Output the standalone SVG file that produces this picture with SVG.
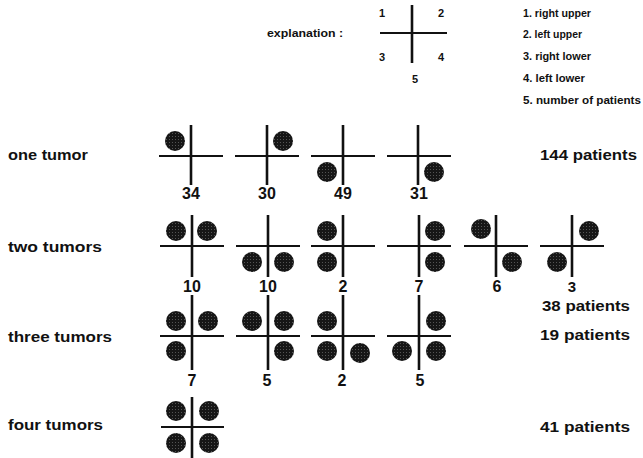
<svg xmlns="http://www.w3.org/2000/svg" width="643" height="458" viewBox="0 0 643 458">
<style>
text{font-family:"Liberation Sans",Arial,sans-serif;font-weight:bold;fill:#111}
.lbl{font-size:15px}
.num{font-size:16px;text-anchor:middle}
.leg{font-size:10.5px}
.exn{font-size:11px;text-anchor:middle}
.v{stroke:#111;stroke-width:2.6}
.h{stroke:#111;stroke-width:2.2}
.t{fill:url(#dots)}
</style>
<defs>
<pattern id="dots" width="3" height="3" patternUnits="userSpaceOnUse">
<rect width="3" height="3" fill="#161616"/>
<circle cx="1.5" cy="1.5" r="0.45" fill="#fff" opacity="0.55"/>
</pattern>
</defs>
<rect width="643" height="458" fill="#fff"/>

<g id="explanation">
<text x="267" y="37" class="leg" textLength="76" lengthAdjust="spacingAndGlyphs">explanation :</text>
<line class="v" x1="412" y1="5" x2="412" y2="63"/>
<line class="h" x1="380" y1="33" x2="447" y2="33"/>
<text x="382" y="17" class="exn">1</text>
<text x="441" y="17" class="exn">2</text>
<text x="382" y="61" class="exn">3</text>
<text x="441" y="61" class="exn">4</text>
<text x="415" y="83" class="exn">5</text>
</g>

<g id="legend">
<text x="523" y="17" class="leg" textLength="68" lengthAdjust="spacingAndGlyphs">1. right upper</text>
<text x="523" y="38" class="leg" textLength="59" lengthAdjust="spacingAndGlyphs">2. left upper</text>
<text x="523" y="60" class="leg" textLength="68" lengthAdjust="spacingAndGlyphs">3. right lower</text>
<text x="523" y="82" class="leg" textLength="62" lengthAdjust="spacingAndGlyphs">4. left lower</text>
<text x="523" y="104" class="leg" textLength="118" lengthAdjust="spacingAndGlyphs">5. number of patients</text>
</g>

<g id="row-labels">
<text x="8" y="160" class="lbl" textLength="80" lengthAdjust="spacingAndGlyphs">one tumor</text>
<text x="8" y="252" class="lbl" textLength="94" lengthAdjust="spacingAndGlyphs">two tumors</text>
<text x="8" y="342" class="lbl" textLength="104" lengthAdjust="spacingAndGlyphs">three tumors</text>
<text x="8" y="430" class="lbl" textLength="95" lengthAdjust="spacingAndGlyphs">four tumors</text>
</g>

<g id="totals">
<text x="540" y="160" class="lbl" textLength="97" lengthAdjust="spacingAndGlyphs">144 patients</text>
<text x="542" y="311" class="lbl" textLength="88" lengthAdjust="spacingAndGlyphs">38 patients</text>
<text x="540" y="340" class="lbl" textLength="90" lengthAdjust="spacingAndGlyphs">19 patients</text>
<text x="540" y="432" class="lbl" textLength="90" lengthAdjust="spacingAndGlyphs">41 patients</text>
</g>

<g id="connectors"/>

<!-- row 1: one tumor -->
<g id="r1c1">
<line class="v" x1="191" y1="125" x2="191" y2="185"/><line class="h" x1="159" y1="156" x2="223" y2="156"/>
<circle class="t" cx="175" cy="141" r="10"/>
<text x="191" y="199" class="num">34</text>
</g>
<g id="r1c2">
<line class="v" x1="267" y1="125" x2="267" y2="185"/><line class="h" x1="235" y1="156" x2="299" y2="156"/>
<circle class="t" cx="283" cy="141" r="10"/>
<text x="267" y="199" class="num">30</text>
</g>
<g id="r1c3">
<line class="v" x1="343" y1="125" x2="343" y2="185"/><line class="h" x1="311" y1="156" x2="375" y2="156"/>
<circle class="t" cx="327" cy="172" r="10"/>
<text x="343" y="199" class="num">49</text>
</g>
<g id="r1c4">
<line class="v" x1="418" y1="125" x2="418" y2="185"/><line class="h" x1="387" y1="156" x2="451" y2="156"/>
<circle class="t" cx="434" cy="172" r="10"/>
<text x="419" y="199" class="num">31</text>
</g>

<!-- row 2: two tumors -->
<g id="r2c1">
<line class="v" x1="192" y1="215" x2="192" y2="277"/><line class="h" x1="160" y1="246" x2="224" y2="246"/>
<circle class="t" cx="176" cy="231" r="10"/><circle class="t" cx="207" cy="231" r="10"/>
<text x="192" y="292" class="num">10</text>
</g>
<g id="r2c2">
<line class="v" x1="268" y1="215" x2="268" y2="277"/><line class="h" x1="236" y1="246" x2="300" y2="246"/>
<circle class="t" cx="252" cy="262" r="10"/><circle class="t" cx="284" cy="262" r="10"/>
<text x="268" y="292" class="num">10</text>
</g>
<g id="r2c3">
<line class="v" x1="343" y1="215" x2="343" y2="277"/><line class="h" x1="311" y1="246" x2="375" y2="246"/>
<circle class="t" cx="327" cy="231" r="10"/><circle class="t" cx="327" cy="262" r="10"/>
<text x="343" y="292" class="num">2</text>
</g>
<g id="r2c4">
<line class="v" x1="419" y1="215" x2="419" y2="277"/><line class="h" x1="387" y1="246" x2="451" y2="246"/>
<circle class="t" cx="435" cy="231" r="10"/><circle class="t" cx="435" cy="262" r="10"/>
<text x="419" y="292" class="num">7</text>
</g>
<g id="r2c5">
<line class="v" x1="496" y1="215" x2="496" y2="277"/><line class="h" x1="464" y1="246" x2="528" y2="246"/>
<circle class="t" cx="481" cy="229" r="10"/><circle class="t" cx="512" cy="262" r="10"/>
<text x="497" y="292" class="num">6</text>
</g>
<g id="r2c6">
<line class="v" x1="572" y1="215" x2="572" y2="277"/><line class="h" x1="540" y1="246" x2="604" y2="246"/>
<circle class="t" cx="589" cy="231" r="10"/><circle class="t" cx="557" cy="262" r="10"/>
<text x="572" y="292" class="num" style="font-size:15px">3</text>
</g>

<!-- row 3: three tumors -->
<g id="r3c1">
<line class="v" x1="192" y1="295" x2="192" y2="370"/><line class="h" x1="160" y1="336" x2="224" y2="336"/>
<circle class="t" cx="176" cy="321" r="10"/><circle class="t" cx="208" cy="321" r="10"/><circle class="t" cx="176" cy="351" r="10"/>
<text x="192" y="386" class="num">7</text>
</g>
<g id="r3c2">
<line class="v" x1="268" y1="295" x2="268" y2="370"/><line class="h" x1="236" y1="336" x2="300" y2="336"/>
<circle class="t" cx="252" cy="321" r="10"/><circle class="t" cx="284" cy="321" r="10"/><circle class="t" cx="284" cy="351" r="10"/>
<text x="267" y="386" class="num">5</text>
</g>
<g id="r3c3">
<line class="v" x1="343" y1="295" x2="343" y2="370"/><line class="h" x1="311" y1="336" x2="375" y2="336"/>
<circle class="t" cx="327" cy="321" r="10"/><circle class="t" cx="327" cy="351" r="10"/><circle class="t" cx="360" cy="353" r="10"/>
<text x="342" y="386" class="num">2</text>
</g>
<g id="r3c4">
<line class="v" x1="419" y1="295" x2="419" y2="370"/><line class="h" x1="387" y1="336" x2="451" y2="336"/>
<circle class="t" cx="436" cy="321" r="10"/><circle class="t" cx="402" cy="351" r="10"/><circle class="t" cx="436" cy="351" r="10"/>
<text x="420" y="386" class="num">5</text>
</g>

<!-- row 4: four tumors -->
<g id="r4c1">
<line class="v" x1="192" y1="397" x2="192" y2="458"/><line class="h" x1="161" y1="427" x2="224" y2="427"/>
<circle class="t" cx="176" cy="411" r="10"/><circle class="t" cx="209" cy="411" r="10"/>
<circle class="t" cx="176" cy="443" r="10"/><circle class="t" cx="209" cy="443" r="10"/>
</g>
</svg>
